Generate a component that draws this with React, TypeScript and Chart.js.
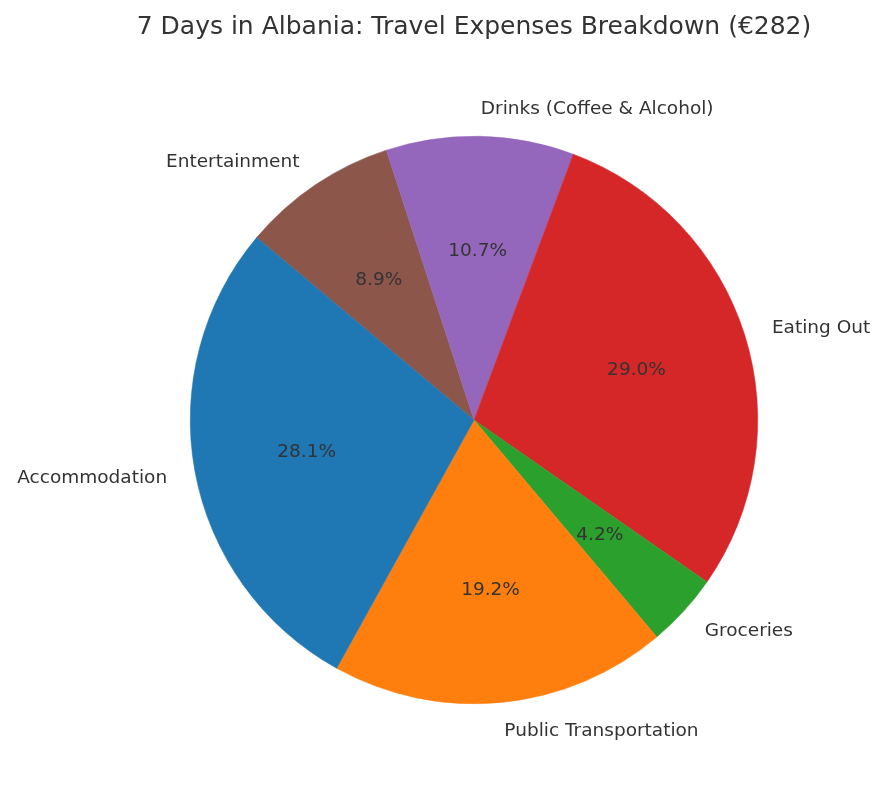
import React, { useEffect, useRef } from "react";
import { Chart, registerables } from "chart.js";

Chart.register(...registerables);

const categories = ["Entertainment", "Drinks (Coffee & Alcohol)", "Eating Out", "Groceries", "Public Transportation", "Accommodation"];
const shares = [8.9, 10.7, 29.0, 4.2, 19.2, 28.1];
const colors = ["#8c564b", "#9467bd", "#d62728", "#2ca02c", "#ff7f0e", "#1f77b4"];
const titleText = "7 Days in Albania: Travel Expenses Breakdown (€282)";

const FONT = "'DejaVu Sans', sans-serif";
const TEXT = "#333333";

const labelPlugin = {
  id: "pieLabels",
  afterDraw(chart: any) {
    const ctx = chart.ctx;
    const meta = chart.getDatasetMeta(0);
    const total = shares.reduce((a, b) => a + b, 0);
    ctx.save();
    // title
    ctx.fillStyle = TEXT;
    ctx.font = `25px ${FONT}`;
    ctx.textAlign = "center";
    ctx.textBaseline = "middle";
    ctx.fillText(titleText, 474, 27);
    meta.data.forEach((arc: any, i: number) => {
      const { x, y, startAngle, endAngle, outerRadius } = arc.getProps(["x", "y", "startAngle", "endAngle", "outerRadius"], true);
      const mid = (startAngle + endAngle) / 2;
      const c = Math.cos(mid), s = Math.sin(mid);
      // percentage
      ctx.font = `18.5px ${FONT}`;
      ctx.textAlign = "center";
      ctx.textBaseline = "middle";
      ctx.fillStyle = TEXT;
      const pct = ((shares[i] / total) * 100).toFixed(1) + "%";
      ctx.fillText(pct, x + c * outerRadius * 0.6, y + s * outerRadius * 0.6 + 1);
      // label
      const lx = x + c * outerRadius * 1.1;
      const ly = y + s * outerRadius * 1.1 + 1;
      ctx.textAlign = c >= 0 ? "left" : "right";
      ctx.fillText(categories[i], lx, ly);
    });
    ctx.restore();
  },
};

export default function App() {
  const ref = useRef<HTMLCanvasElement>(null);
  useEffect(() => {
    document.body.style.margin = "0";
    const chart = new Chart(ref.current!, {
      type: "pie",
      data: {
        labels: categories,
        datasets: [
          {
            data: shares,
            backgroundColor: colors,
            borderColor: colors,
            borderWidth: 0.5,
          },
        ],
      },
      options: {
        animation: false,
        responsive: false,
        rotation: -50,
        layout: { padding: { left: 190, right: 128, top: 136, bottom: 86 } },
        plugins: { legend: { display: false }, tooltip: { enabled: false }, title: { display: false } },
      },
      plugins: [labelPlugin],
    });
    return () => chart.destroy();
  }, []);
  return (
    <div style={{ width: 886, height: 790, background: "#fff" }}>
      <canvas ref={ref} width={886} height={790} style={{ display: "block" }} />
    </div>
  );
}
